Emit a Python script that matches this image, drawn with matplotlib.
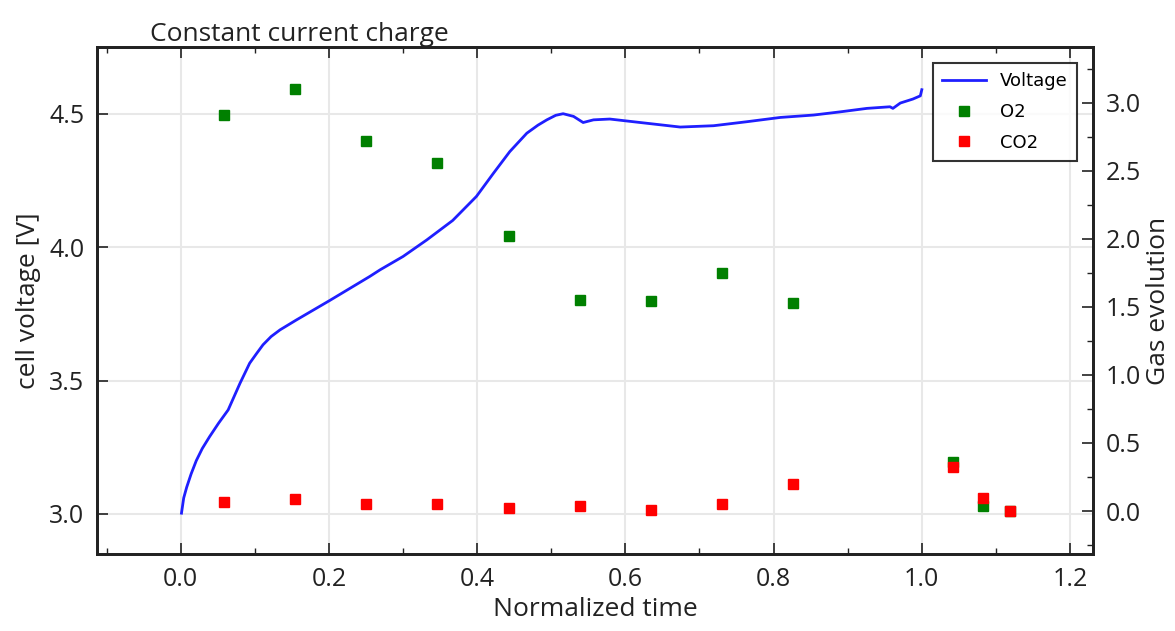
import numpy as np
import matplotlib
matplotlib.use("Agg")
import matplotlib.pyplot as plt
from matplotlib.ticker import MultipleLocator

# voltage curve
time_v = [0.001, 0.004, 0.008, 0.014, 0.021, 0.029, 0.039, 0.051, 0.064, 0.072,
          0.080, 0.093, 0.102, 0.111, 0.122, 0.134, 0.156, 0.201, 0.255, 0.269,
          0.300, 0.332, 0.367, 0.399, 0.422, 0.444, 0.467, 0.482, 0.494, 0.506,
          0.516, 0.530, 0.543, 0.557, 0.579, 0.620, 0.674, 0.719, 0.764, 0.809,
          0.854, 0.890, 0.926, 0.957, 0.961, 0.971, 0.988, 0.998, 1.000]
voltage = [3.003, 3.06, 3.10, 3.15, 3.20, 3.245, 3.29, 3.34, 3.39, 3.44,
           3.49, 3.565, 3.60, 3.634, 3.665, 3.69, 3.727, 3.80, 3.89, 3.915,
           3.965, 4.027, 4.10, 4.19, 4.277, 4.358, 4.427, 4.457, 4.477, 4.494,
           4.50, 4.49, 4.467, 4.477, 4.48, 4.467, 4.45, 4.455, 4.47, 4.486,
           4.495, 4.507, 4.52, 4.526, 4.52, 4.54, 4.555, 4.567, 4.59]

# gas evolution samples
time_gas = [0.058, 0.154, 0.250, 0.346, 0.443, 0.539, 0.634, 0.730, 0.826, 1.042, 1.083, 1.119]
o2 = [2.91, 3.10, 2.72, 2.56, 2.02, 1.55, 1.54, 1.75, 1.53, 0.36, 0.04, 0.0]
co2 = [0.066, 0.088, 0.05, 0.05, 0.02, 0.037, 0.007, 0.05, 0.20, 0.32, 0.096, 0.003]

plt.rcParams['font.family'] = ['Open Sans', 'DejaVu Sans']
text_col = '#222222'

fig = plt.figure(figsize=(11.75, 6.31), dpi=100)
ax = fig.add_axes([97 / 1175, 1 - 554 / 631, (1093 - 97) / 1175, (554 - 47) / 631])
ax2 = ax.twinx()

line, = ax.plot(time_v, voltage, color='#1f1fff', lw=2, label='Voltage')
p1, = ax2.plot(time_gas, o2, 's', color='green', ms=6.5, label='O2')
p2, = ax2.plot(time_gas, co2, 's', color='red', ms=6.5, label='CO2')

ax.set_xlim(-0.113, 1.231)
ax.set_ylim(2.85, 4.75)
ax2.set_ylim(-0.316, 3.41)

ax.xaxis.set_major_locator(MultipleLocator(0.2))
ax.xaxis.set_minor_locator(MultipleLocator(0.1))
ax.yaxis.set_major_locator(MultipleLocator(0.5))
ax2.yaxis.set_major_locator(MultipleLocator(0.5))
ax2.yaxis.set_minor_locator(MultipleLocator(0.25))

ax.grid(True, color='#e8e8e8', lw=1.5)
ax.set_axisbelow(True)

ax.tick_params(axis='x', which='both', direction='in', top=True, bottom=True,
               colors=text_col, labelsize=18, pad=9)
ax.tick_params(axis='y', which='both', direction='in', left=True, right=False,
               colors=text_col, labelsize=18, pad=9)
ax2.tick_params(axis='y', which='both', direction='in', left=False, right=True,
                colors=text_col, labelsize=18, pad=9)
for a in (ax, ax2):
    a.tick_params(which='major', length=8, width=1.2)
    a.tick_params(which='minor', length=4, width=1.0)
    for s in a.spines.values():
        s.set_linewidth(2)
        s.set_color('#222222')

ax.set_xlabel('Normalized time', fontsize=19, color=text_col, labelpad=4)
ax.set_ylabel('cell voltage [V]', fontsize=19, color=text_col, labelpad=6)
ax2.set_ylabel('Gas evolution', fontsize=19, color=text_col, labelpad=4)
ax.set_title('Constant current charge', loc='left', x=0.053, fontsize=19, color=text_col, pad=4)

leg = ax2.legend(handles=[line, p1, p2], loc='upper right', numpoints=1, fancybox=False,
                 prop={'family': 'DejaVu Sans', 'size': 13}, borderaxespad=0.9,
                 handlelength=2.4, labelspacing=0.7, borderpad=0.5)
leg.get_frame().set_edgecolor('black')
leg.get_frame().set_linewidth(1.5)

fig.savefig('out.png', dpi=100)
